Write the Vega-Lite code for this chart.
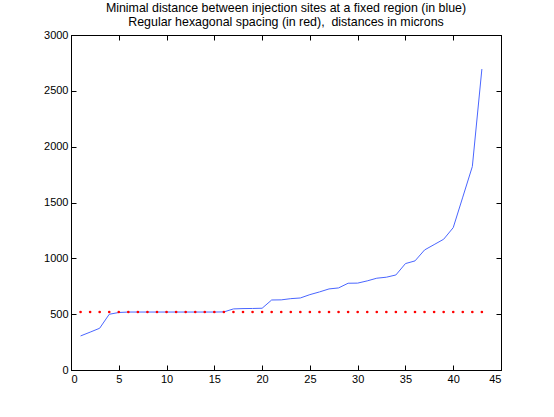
{
  "$schema": "https://vega.github.io/schema/vega-lite/v6.json",
  "width": 430,
  "height": 335,
  "autosize": "none",
  "padding": {"left": 71, "top": 35, "right": 53, "bottom": 47},
  "background": "white",
  "title": {
    "text": ["Minimal distance between injection sites at a fixed region (in blue)", "Regular hexagonal spacing (in red),\u00a0 distances in microns"],
    "font": "Liberation Sans",
    "fontSize": 12.4,
    "fontWeight": "normal",
    "color": "black",
    "anchor": "middle",
    "offset": 1,
    "lineHeight": 14
  },
  "config": {
    "view": {"stroke": "black", "strokeWidth": 1},
    "axis": {
      "grid": false,
      "domainColor": "black",
      "tickColor": "black",
      "tickSize": -5,
      "ticks": true,
      "labelFont": "Liberation Sans",
      "labelFontSize": 11,
      "labelColor": "black",
      "format": "d",
      "title": null
    }
  },
  "data": {
    "values": [
      {"x": 1, "d": 305, "h": 519.6},
      {"x": 2, "d": 339, "h": 519.6},
      {"x": 3, "d": 374, "h": 519.6},
      {"x": 4, "d": 499, "h": 519.6},
      {"x": 5, "d": 515, "h": 519.6},
      {"x": 6, "d": 519, "h": 519.6},
      {"x": 7, "d": 519, "h": 519.6},
      {"x": 8, "d": 519, "h": 519.6},
      {"x": 9, "d": 519, "h": 519.6},
      {"x": 10, "d": 519, "h": 519.6},
      {"x": 11, "d": 519, "h": 519.6},
      {"x": 12, "d": 519, "h": 519.6},
      {"x": 13, "d": 519, "h": 519.6},
      {"x": 14, "d": 519, "h": 519.6},
      {"x": 15, "d": 519, "h": 519.6},
      {"x": 16, "d": 520, "h": 519.6},
      {"x": 17, "d": 547, "h": 519.6},
      {"x": 18, "d": 550, "h": 519.6},
      {"x": 19, "d": 551, "h": 519.6},
      {"x": 20, "d": 553, "h": 519.6},
      {"x": 21, "d": 627, "h": 519.6},
      {"x": 22, "d": 628, "h": 519.6},
      {"x": 23, "d": 639, "h": 519.6},
      {"x": 24, "d": 645, "h": 519.6},
      {"x": 25, "d": 675, "h": 519.6},
      {"x": 26, "d": 699, "h": 519.6},
      {"x": 27, "d": 726, "h": 519.6},
      {"x": 28, "d": 735, "h": 519.6},
      {"x": 29, "d": 777, "h": 519.6},
      {"x": 30, "d": 778, "h": 519.6},
      {"x": 31, "d": 798, "h": 519.6},
      {"x": 32, "d": 822, "h": 519.6},
      {"x": 33, "d": 831, "h": 519.6},
      {"x": 34, "d": 851, "h": 519.6},
      {"x": 35, "d": 953, "h": 519.6},
      {"x": 36, "d": 977, "h": 519.6},
      {"x": 37, "d": 1075, "h": 519.6},
      {"x": 38, "d": 1123, "h": 519.6},
      {"x": 39, "d": 1171, "h": 519.6},
      {"x": 40, "d": 1275, "h": 519.6},
      {"x": 41, "d": 1548, "h": 519.6},
      {"x": 42, "d": 1822, "h": 519.6},
      {"x": 43, "d": 2695, "h": 519.6}
    ]
  },
  "layer": [
    {
      "mark": {"type": "line", "color": "#4a66ff", "strokeWidth": 1, "clip": true},
      "encoding": {
        "x": {"field": "x", "type": "quantitative", "scale": {"domain": [0, 45], "nice": false}, "axis": {"values": [0, 5, 10, 15, 20, 25, 30, 35, 40, 45], "orient": "bottom", "labelPadding": 8}},
        "y": {"field": "d", "type": "quantitative", "scale": {"domain": [0, 3000], "nice": false}, "axis": {"values": [0, 500, 1000, 1500, 2000, 2500, 3000], "orient": "left", "labelPadding": 8}}
      }
    },
    {
      "mark": {"type": "point", "filled": true, "color": "#ff0000", "size": 7, "opacity": 1},
      "encoding": {
        "x": {"field": "x", "type": "quantitative", "axis": {"values": [0, 5, 10, 15, 20, 25, 30, 35, 40, 45], "orient": "top", "labels": false, "ticks": true, "tickSize": -5}},
        "y": {"field": "h", "type": "quantitative", "axis": {"values": [0, 500, 1000, 1500, 2000, 2500, 3000], "orient": "right", "labels": false, "ticks": true, "tickSize": -5}}
      }
    }
  ],
  "resolve": {"axis": {"x": "independent", "y": "independent"}}
}
